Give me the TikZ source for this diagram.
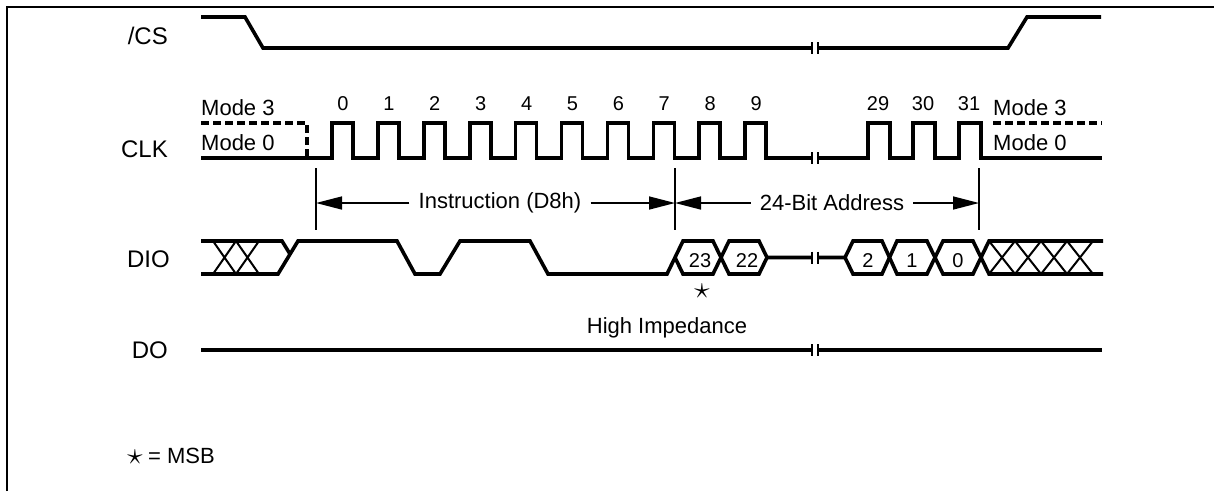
\documentclass[tikz,border=0pt]{standalone}
\usepackage{fontspec}
\setmainfont{Liberation Sans}
\usetikzlibrary{arrows.meta}
\begin{document}
\begin{tikzpicture}[x=1pt, y=-1pt,
  wave/.style = {line width=3.6pt, line join=miter},
  hatch/.style = {line width=2pt},
  brk/.style = {line width=2pt},
  dimtick/.style = {line width=1.5pt},
  dimline/.style = {line width=1.5pt, -{Triangle[length=26pt,width=13pt]}},
  modeline/.style = {wave, dash pattern=on 8pt off 4pt},
  siglabel/.style = {anchor=base east, inner sep=0pt, font=\fontsize{24}{28}\selectfont},
  txt/.style = {inner sep=0pt, font=\fontsize{22}{26}\selectfont},
  num/.style = {anchor=base, inner sep=0pt, font=\fontsize{20}{24}\selectfont}]
\useasboundingbox (0,0) rectangle (1214,491);
\pgfmathsetmacro\csH{17}
\pgfmathsetmacro\csL{48}
\pgfmathsetmacro\clkH{123}
\pgfmathsetmacro\clkL{158}
\pgfmathsetmacro\dioH{241}
\pgfmathsetmacro\dioL{274}
\pgfmathsetmacro\dioM{257.5}
\pgfmathsetmacro\doY{350}
\pgfmathsetmacro\per{45.9}
\newcommand\msbstar{\scalebox{1.5}{$\star$}}
\draw[line width=2.5pt] (7,491) -- (7,7) -- (1214,7);
\node[siglabel] (cslbl) at (168,44) {/CS};
\node[siglabel] (clklbl) at (168,157) {CLK};
\node[siglabel] (diolbl) at (170,267) {DIO};
\node[siglabel] (dolbl) at (168,358) {DO};
\draw[wave] (201,\csH) -- (245,\csH) -- (263,\csL) -- (812,\csL);
\draw[wave] (818,\csL) -- (1008,\csL) -- (1027,\csH) -- (1101,\csH);
\node[txt, anchor=base west] (m3a) at (201,115) {Mode 3};
\node[txt, anchor=base west] (m0a) at (201,150) {Mode 0};
\node[txt, anchor=base west] (m3b) at (993,115) {Mode 3};
\node[txt, anchor=base west] (m0b) at (993,150) {Mode 0};
\draw[modeline] (201,\clkH) -- (307,\clkH) -- (307,\clkL);
\draw[modeline] (993,\clkH) -- (1102,\clkH);
\draw[wave] (201,\clkL) foreach \i in {0,...,9} { -- ({332+\per*\i},\clkL) -- ({332+\per*\i},\clkH) -- ({353+\per*\i},\clkH) -- ({353+\per*\i},\clkL) } -- (812,\clkL);
\draw[wave] (818,\clkL) foreach \r in {868,913,959} { -- (\r,\clkL) -- (\r,\clkH) -- (\r+22,\clkH) -- (\r+22,\clkL) } -- (1102,\clkL);
\foreach \i in {0,...,9} \node[num] (n\i) at ({343+\per*\i},110) {\i};
\foreach \n/\x in {29/878,30/923,31/969} \node[num] (n\n) at (\x,110) {\n};
\foreach \t/\x in {ta/316,tb/675,tc/979} {
  \draw[dimtick] (\x,168) -- (\x,230);
  \coordinate (\t) at (\x,203);
}
\node[txt, inner xsep=9pt] (instr) at (500,203) {Instruction (D8h)};
\node[txt, inner xsep=9pt] (addr) at (832,203) {24-Bit Address};
\draw[dimline] (instr.west) -- (ta);
\draw[dimline] (instr.east) -- (tb);
\draw[dimline] (addr.west) -- (tb);
\draw[dimline] (addr.east) -- (tc);
\draw[wave] (201,\dioH) -- (282,\dioH) -- (290,254);
\draw[wave] (201,\dioL) -- (278,\dioL) -- (298,\dioH) -- (397,\dioH) -- (415,\dioL) -- (440,\dioL) -- (460,\dioH) -- (530,\dioH) -- (548,\dioL) -- (667,\dioL) -- (683,\dioH) -- (713,\dioH) -- (729,\dioL) -- (759,\dioL) -- (767,\dioM) -- (812,\dioM);
\draw[wave] (675,\dioM) -- (683,\dioL) -- (713,\dioL) -- (729,\dioH) -- (759,\dioH) -- (767,\dioM);
\draw[wave] (818,\dioM) -- (845,\dioM) -- (853,\dioH) -- (882,\dioH) -- (897,\dioL) -- (927,\dioL) -- (943,\dioH) -- (973,\dioH) -- (989,\dioL) -- (1103,\dioL);
\draw[wave] (845,\dioM) -- (853,\dioL) -- (882,\dioL) -- (897,\dioH) -- (927,\dioH) -- (943,\dioL) -- (973,\dioL) -- (989,\dioH) -- (1103,\dioH);
\foreach \x in {213,236} \draw[hatch] (\x,\dioH) -- (\x+23,\dioL) (\x,\dioL) -- (\x+23,\dioH);
\foreach \x in {989,1015,1041,1067} \draw[hatch] (\x,\dioH) -- (\x+26,\dioL) (\x,\dioL) -- (\x+26,\dioH);
\foreach \b/\x in {23/700,22/747,2/868,1/912,0/958} \node[num] (b\b) at (\x,267) {\b};
\node[txt] (star) at (702,291) {\msbstar};
\draw[wave] (201,\doY) -- (812,\doY);
\draw[wave] (818,\doY) -- (1102,\doY);
\node[txt, anchor=base] (hiz) at (667,333) {High Impedance};
\foreach \y in {\csL,\clkL,\dioM,\doY} \draw[brk] (812,\y-6) -- (812,\y+6) (818,\y-6) -- (818,\y+6);
\node[txt] (msbstar) at (135,457) {\msbstar};
\node[txt, anchor=base west] (msb) at (148,463) {= MSB};
\end{tikzpicture}
\end{document}
